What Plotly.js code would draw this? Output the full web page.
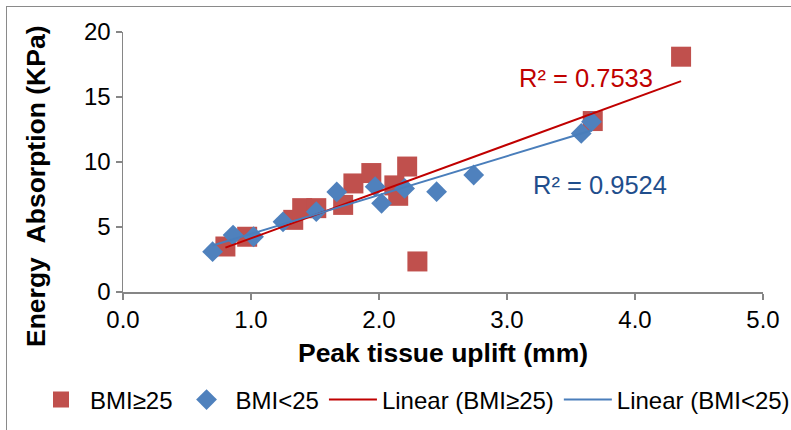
<!DOCTYPE html>
<html>
<head>
<meta charset="utf-8">
<script src="https://cdn.plot.ly/plotly-3.0.1.min.js"></script>
<style>
  html, body { margin: 0; padding: 0; background: #fff; overflow: hidden; }
  #chart { position: absolute; left: 0; top: 0; width: 791px; height: 430px; }
  #frame { position: absolute; left: 6px; top: 6px; width: 820px; height: 460px;
           border-left: 1.5px solid #8a8a8a; border-top: 1.5px solid #8a8a8a; pointer-events: none; }
</style>
</head>
<body>
<div id="chart"></div>
<div id="frame"></div>
<script>
// Data
const highBmiName = "BMI≥25";
const highBmiUplift = [0.80, 0.97, 1.33, 1.40, 1.51, 1.72, 1.80, 1.94, 2.12, 2.15, 2.22, 2.30, 3.67, 4.36];
const highBmiEnergy = [3.5, 4.25, 5.55, 6.45, 6.45, 6.7, 8.35, 9.15, 8.2, 7.4, 9.65, 2.35, 13.15, 18.1];

const lowBmiName = "BMI<25";
const lowBmiUplift = [0.70, 0.86, 1.02, 1.25, 1.51, 1.67, 1.97, 2.02, 2.20, 2.45, 2.74, 3.58, 3.66];
const lowBmiEnergy = [3.1, 4.38, 4.25, 5.4, 6.18, 7.7, 8.1, 6.82, 7.97, 7.72, 9.0, 12.2, 13.1];

const highR2Label = "R² = 0.7533";
const lowR2Label = "R² = 0.9524";
const xTickVals = [0, 1, 2, 3, 4, 5];
const xTickText = ["0.0", "1.0", "2.0", "3.0", "4.0", "5.0"];
const yTickVals = [0, 5, 10, 15, 20];

function linFit(xs, ys) {
  const n = xs.length;
  let sx = 0, sy = 0, sxx = 0, sxy = 0;
  for (let i = 0; i < n; i++) { sx += xs[i]; sy += ys[i]; sxx += xs[i]*xs[i]; sxy += xs[i]*ys[i]; }
  const b = (n*sxy - sx*sy) / (n*sxx - sx*sx);
  const a = (sy - b*sx) / n;
  const x0 = Math.min(...xs), x1 = Math.max(...xs);
  return { x: [x0, x1], y: [a + b*x0, a + b*x1] };
}

const fitHigh = linFit(highBmiUplift, highBmiEnergy);
const fitLow = linFit(lowBmiUplift, lowBmiEnergy);

const FONT = '"Liberation Sans", Arial, sans-serif';

const traces = [
  { type: 'scatter', mode: 'markers', name: highBmiName, x: highBmiUplift, y: highBmiEnergy,
    marker: { symbol: 'square', size: 20, color: '#C0504D', line: { width: 0 } } },
  { type: 'scatter', mode: 'markers', name: lowBmiName, x: lowBmiUplift, y: lowBmiEnergy,
    marker: { symbol: 'diamond', size: 16, color: '#4F81BD', line: { width: 0 } } },
  { type: 'scatter', mode: 'lines', name: 'Linear (' + highBmiName + ')', x: fitHigh.x, y: fitHigh.y,
    line: { color: '#C00000', width: 2 } },
  { type: 'scatter', mode: 'lines', name: 'Linear (' + lowBmiName + ')', x: fitLow.x, y: fitLow.y,
    line: { color: '#4A7EBB', width: 2 } }
];

const layout = {
  width: 791, height: 430,
  margin: { l: 123, r: 28, t: 32, b: 138, autoexpand: false },
  paper_bgcolor: '#fff', plot_bgcolor: '#fff',
  font: { family: FONT, size: 22, color: '#000' },
  showlegend: true,
  legend: { orientation: 'h', x: (32 - 123) / 640, xanchor: 'left', y: (292 - 400) / 260, yanchor: 'middle',
            font: { family: FONT, size: 24, color: '#000' }, itemwidth: 48, tracegroupgap: 0 },
  xaxis: {
    range: [0, 5], tickvals: xTickVals, ticktext: xTickText, automargin: false,
    showgrid: false, zeroline: false, showline: true, linecolor: '#868686', linewidth: 1.5,
    ticks: 'outside', ticklen: 6, tickcolor: '#868686', tickwidth: 1.5,
    tickfont: { family: FONT, size: 24, color: '#000' },
    title: { text: '<b>Peak tissue uplift (mm)</b>', font: { family: FONT, size: 26.5, color: '#000' }, standoff: 11 }
  },
  yaxis: {
    range: [0, 20], tickvals: yTickVals, automargin: false,
    showgrid: false, zeroline: false, showline: true, linecolor: '#868686', linewidth: 1.5,
    ticks: 'outside', ticklen: 6, tickcolor: '#868686', tickwidth: 1.5,
    tickfont: { family: FONT, size: 24, color: '#000' },
    title: { text: '' }
  },
  annotations: [
    { xref: 'paper', yref: 'paper', x: (36 - 123) / 640, y: (292 - 187) / 260, xanchor: 'center', yanchor: 'middle',
      text: '<b>Energy  Absorption (KPa)</b>', textangle: -90, showarrow: false,
      font: { family: FONT, size: 26.5, color: '#000' } },
    { xref: 'x', yref: 'y', x: 3.62, y: 16.5, text: highR2Label, showarrow: false,
      xanchor: 'center', yanchor: 'middle', font: { family: FONT, size: 25.5, color: '#C00000' } },
    { xref: 'x', yref: 'y', x: 3.73, y: 8.2, text: lowR2Label, showarrow: false,
      xanchor: 'center', yanchor: 'middle', font: { family: FONT, size: 25.5, color: '#1F4E8C' } }
  ]
};

Plotly.newPlot('chart', traces, layout, { displayModeBar: false, staticPlot: true });
</script>
</body>
</html>
